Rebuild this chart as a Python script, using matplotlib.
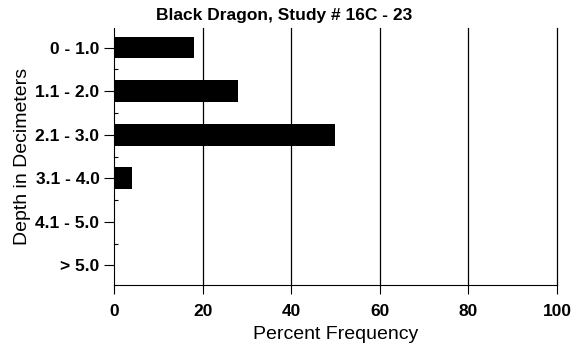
import matplotlib
matplotlib.use("Agg")
import matplotlib.pyplot as plt

plt.rcParams['font.family'] = ['Liberation Sans', 'DejaVu Sans']

depths = ["0 - 1.0", "1.1 - 2.0", "2.1 - 3.0", "3.1 - 4.0", "4.1 - 5.0", "> 5.0"]
percent = [18, 28, 50, 4, 0, 0]
xticks = [0, 20, 40, 60, 80, 100]

fig = plt.figure(figsize=(5.71, 3.5), dpi=100)
ax = fig.add_axes([0.1996, 0.1857, 0.7759, 0.7343])

ypos = list(range(len(depths)))
ax.barh(ypos, percent, height=0.5, color='black', zorder=3)

ax.set_ylim(len(depths) - 0.55, -0.45)
ax.set_xlim(0, 100)
ax.set_yticks(ypos)
ax.set_yticklabels(depths, fontsize=12.5, fontweight='bold')
ax.set_xticks(xticks)
ax.set_xticklabels([str(t) for t in xticks], fontsize=12.5, fontweight='bold')
ax.set_yticks([y + 0.5 for y in ypos[:-1]], minor=True)
ax.tick_params(axis='y', which='minor', length=3, direction='in', width=0.8)
ax.tick_params(axis='y', which='major', length=7.5, width=0.8, pad=3)
ax.tick_params(axis='x', which='major', length=6.5, width=0.8, pad=7.5)

for t in xticks[1:]:
    ax.axvline(t, color='black', lw=0.9, zorder=1, clip_on=False)

for s in ['top', 'right']:
    ax.spines[s].set_visible(False)
ax.spines['left'].set_linewidth(0.8)
ax.spines['bottom'].set_linewidth(0.8)

ax.set_xlabel("Percent Frequency", fontsize=14, labelpad=5)
ax.set_ylabel("Depth in Decimeters", fontsize=14, labelpad=3)
fig.suptitle("Black Dragon, Study # 16C - 23", x=0.497, y=0.978, fontsize=12.5, fontweight='bold')

fig.savefig("out.png", dpi=100)
